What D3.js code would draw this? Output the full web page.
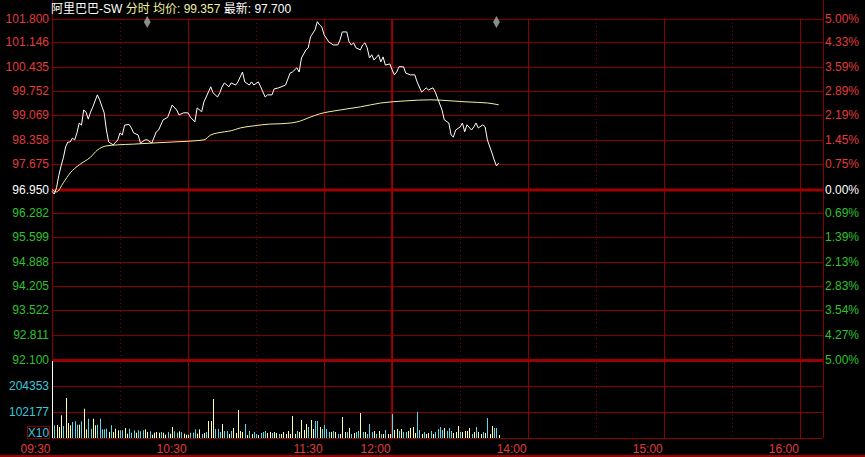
<!DOCTYPE html>
<html>
<head>
<meta charset="utf-8">
<script src="https://cdn.jsdelivr.net/npm/d3@7"></script>
<style>
  body { margin: 0; background: #000; }
  svg { display: block; background: #000; font-family: 'Liberation Sans', Arial, 'Noto Sans CJK SC', sans-serif; font-size: 12px; }
</style>
</head>
<body>
<svg class="chart" width="865" height="457"></svg>
<script>
const prevClose = 96.95;
const priceTicks = [101.8, 101.146, 100.435, 99.752, 99.069, 98.358, 97.675, 96.95,
  96.282, 95.599, 94.888, 94.205, 93.522, 92.811, 92.1];
const percentLabels = ['5.00%', '4.33%', '3.59%', '2.89%', '2.19%', '1.45%', '0.75%', '0.00%',
  '0.69%', '1.39%', '2.13%', '2.83%', '3.54%', '4.27%', '5.00%'];
const volumeTicks = [102177, 204353];
const timeTicks = ['09:30', '10:30', '11:30', '12:00', '14:00', '15:00', '16:00'];
const solidTimes = ['10:30', '11:30', '14:00', '15:00', '16:00'];
const dottedTimes = ['10:00', '11:00', '13:30', '14:30', '15:30'];
const markerTimes = ['10:12', '13:46'];

const priceTimes = [
  '09:30', '09:31', '09:32', '09:33', '09:34', '09:35', '09:36', '09:37', '09:38', '09:39',
  '09:40', '09:41', '09:42', '09:43', '09:44', '09:45', '09:46', '09:47', '09:48', '09:50',
  '09:51', '09:53', '09:54', '09:55', '09:57', '09:59', '10:00', '10:01', '10:02', '10:04',
  '10:05', '10:06', '10:08', '10:09', '10:11', '10:12', '10:14', '10:16', '10:17', '10:19',
  '10:21', '10:23', '10:25', '10:26', '10:28', '10:30', '10:31', '10:33', '10:34', '10:36',
  '10:37', '10:38', '10:40', '10:41', '10:43', '10:44', '10:45', '10:46', '10:48', '10:49',
  '10:51', '10:52', '10:54', '10:55', '10:57', '10:58', '10:59', '11:01', '11:02', '11:04',
  '11:05', '11:07', '11:08', '11:10', '11:13', '11:15', '11:16', '11:18', '11:19', '11:20',
  '11:22', '11:23', '11:24', '11:26', '11:27', '11:28', '11:29', '11:30', '11:32', '11:34',
  '11:36', '11:37', '11:38', '11:40', '11:41', '11:42', '11:43', '11:44', '11:46', '11:47',
  '11:48', '11:49', '11:50', '11:51', '11:52', '11:54', '11:55', '11:56', '11:57', '11:59',
  '13:00', '13:01', '13:02', '13:03', '13:05', '13:06', '13:08', '13:10', '13:11', '13:13',
  '13:15', '13:16', '13:18', '13:19', '13:20', '13:22', '13:23', '13:25', '13:26', '13:27',
  '13:28', '13:30', '13:31', '13:32', '13:33', '13:35', '13:36', '13:37', '13:38', '13:40',
  '13:41', '13:42', '13:44', '13:45', '13:46', '13:47'];
const prices = [
  96.90, 96.82, 97.00, 97.35, 97.62, 97.85, 98.16, 98.30, 98.30, 98.41,
  98.36, 98.56, 98.84, 98.78, 99.21, 99.15, 98.95, 99.15, 99.30, 99.64,
  99.50, 99.13, 98.64, 98.30, 98.22, 98.36, 98.56, 98.50, 98.78, 98.80,
  98.70, 98.56, 98.50, 98.27, 98.36, 98.36, 98.27, 98.59, 98.64, 98.93,
  99.00, 99.35, 99.21, 99.07, 99.13, 99.13, 99.01, 98.87, 99.27, 99.16,
  99.44, 99.58, 99.87, 99.70, 99.58, 99.70, 99.87, 99.98, 99.87, 99.98,
  99.92, 100.01, 100.29, 100.01, 99.92, 100.01, 99.92, 100.01, 99.87, 99.58,
  99.64, 99.64, 99.81, 99.84, 99.92, 100.26, 100.29, 100.41, 100.29, 100.69,
  100.92, 100.98, 101.29, 101.49, 101.72, 101.63, 101.57, 101.35, 101.15, 101.06,
  101.06, 101.20, 101.43, 101.43, 101.15, 101.06, 101.12, 100.98, 100.92, 101.06,
  101.12, 100.98, 100.69, 100.78, 100.63, 100.78, 100.58, 100.72, 100.49, 100.52,
  100.35, 100.21, 100.29, 100.44, 100.44, 100.26, 100.21, 100.21, 100.01, 99.72,
  99.84, 99.78, 99.84, 99.72, 99.55, 99.21, 98.93, 98.84, 98.50, 98.44,
  98.64, 98.73, 98.84, 98.59, 98.79, 98.64, 98.73, 98.84, 98.70, 98.79,
  98.73, 98.36, 97.99, 97.79, 97.62, 97.70];

const avgTimes = ['09:30', '09:32', '09:35', '09:38', '09:42', '09:47', '09:50', '09:54', '09:59',
  '10:06', '10:14', '10:23', '10:37', '10:40', '10:46', '10:49', '10:53', '10:59', '11:06',
  '11:11', '11:18', '11:24', '11:28', '11:37', '11:46', '11:55', '13:06', '13:17', '13:26',
  '13:33', '13:42', '13:47'];
const avgPrices = [96.95, 96.88, 97.14, 97.42, 97.65, 97.87, 98.07, 98.19, 98.22,
  98.24, 98.27, 98.30, 98.36, 98.50, 98.59, 98.62, 98.70, 98.76, 98.81,
  98.82, 98.87, 99.01, 99.10, 99.21, 99.30, 99.41, 99.47, 99.50, 99.47,
  99.44, 99.41, 99.357];

// one bar per minute from 09:30 (morning) and from 13:00 (afternoon)
const amVolumes = [
  302600, 49900, 51100, 43200, 89200, 47200, 157200, 59000, 49900, 62900,
  65600, 52300, 52300, 65600, 115100, 34200, 75800, 36500, 75800, 49900,
  52300, 75800, 34200, 34200, 36500, 23600, 49900, 23600, 36500, 30300,
  30300, 30300, 39300, 16900, 36500, 20800, 30300, 20800, 30300, 26300,
  30300, 34200, 23600, 26300, 13000, 20800, 23600, 20800, 23600, 20800,
  13000, 23600, 16900, 43200, 26300, 20800, 26300, 23600, 16900, 13000,
  13000, 20800, 20800, 34200, 16900, 34200, 15700, 19700, 23600, 66800,
  66800, 153300, 35400, 35400, 23600, 55000, 27500, 27500, 15700, 27500,
  39300, 19700, 110000, 27500, 23600, 55000, 11800, 27500, 15700, 23600,
  15700, 11800, 19700, 23600, 27500, 19700, 23600, 19700, 23600, 19700,
  15700, 15700, 23600, 15700, 27500, 15700, 86500, 15700, 27500, 23600,
  70700, 31400, 55000, 43200, 70700, 35400, 66800, 66800, 43200, 35400,
  51100, 35400, 23600, 23600, 27500, 23600, 15700, 15700, 82500, 23600,
  23600, 39300, 15700, 19700, 23600, 27500, 98300, 23600, 23600, 15700,
  55000, 23600, 27500, 15700, 27500, 15700, 15700, 31400, 15700, 15700];
const pmVolumes = [
  94300, 31400, 35400, 27500, 35400, 23600, 23600, 27500, 39300, 43200,
  19700, 102200, 31400, 15700, 23600, 15700, 19700, 27500, 15700, 23600,
  35400, 43200, 31400, 39300, 27500, 39300, 27500, 19700, 23600, 47200,
  23600, 23600, 27500, 27500, 39300, 15700, 23600, 43200, 23600, 15700,
  23600, 19700, 78600, 15700, 47200, 39300, 39300, 11800];
// w = opening auction, u = up tick, d = down tick
const volumeDirs = [
  'wduuuduuud', 'dduduudduu', 'ddddduduuu', 'dduudddudd', 'duuduuuudu', 'uduudduduu', 'uddduu',
  'duduuudddu', 'dduduuuuud', 'ududdudddu', 'uduuduuuuu', 'uuduuuuduu', 'dduddddudu',
  'duuudududd', 'ududddudud', 'uduu',
  'duududduuu', 'udduduudud', 'ddduddduuu', 'duuuududuu', 'duduuddu'].join('');

const colors = {
  grid: '#8a0000', gridStrong: '#9c0000', up: '#e03c3c', flat: '#ffffff', down: '#2ec32e',
  volume: '#3cc8dc', priceLine: '#ffffff', avgLine: '#f0f0a0', barUp: '#ffffa8', barDown: '#5ad8e6',
};

const toMinute = (t) => {
  const [h, m] = t.split(':').map(Number);
  const mins = h * 60 + m;
  return mins <= 720 ? mins - 570 : mins - 780 + 150;
};

const startApp = () => {
  const margin = { left: 52, right: 42, top: 19 };
  const plotRight = 865 - margin.right + 0;
  const priceBottom = 360;
  const volumeBottom = 438;
  const svg = d3.select('.chart');

  const xScale = d3.scaleLinear().domain([0, 340]).range([margin.left, 823]);
  const yScale = d3.scaleLinear().domain([prevClose * 0.95, prevClose * 1.05]).range([priceBottom, margin.top]);
  const vScale = d3.scaleLinear().domain([0, 306530]).range([volumeBottom, priceBottom]);
  const plotWidth = xScale(340) - xScale(0);
  const tone = v => (Math.abs(v - prevClose) < 0.001 ? colors.flat : (v > prevClose ? colors.up : colors.down));

  // price grid + left labels
  const yAxis = d3.axisLeft(yScale).tickValues(priceTicks)
    .tickFormat(d3.format('.3f')).tickSize(-plotWidth).tickPadding(3);
  const gy = svg.append('g').attr('transform', `translate(${margin.left},0)`).call(yAxis);
  gy.select('.domain').remove();
  gy.selectAll('.tick line')
    .attr('stroke', d => (d === prevClose || d === 92.1 ? colors.gridStrong : colors.grid))
    .attr('stroke-width', d => (d === prevClose || d === 92.1 ? 3 : 1));
  gy.selectAll('.tick text').attr('fill', tone).style('font-size', '12px').style('font-family', null);

  // right percent labels
  const yAxisRight = d3.axisRight(yScale).tickValues(priceTicks)
    .tickFormat((d, i) => percentLabels[i]).tickSize(0).tickPadding(2);
  const gr = svg.append('g').attr('transform', `translate(${xScale(340)},0)`).call(yAxisRight);
  gr.select('.domain').remove();
  gr.selectAll('.tick text').attr('fill', tone).style('font-size', '12px').style('font-family', null);

  // volume grid + labels
  const vAxis = d3.axisLeft(vScale).tickValues(volumeTicks)
    .tickFormat(d3.format('d')).tickSize(-plotWidth).tickPadding(3);
  const gv = svg.append('g').attr('transform', `translate(${margin.left},0)`).call(vAxis);
  gv.select('.domain').remove();
  gv.selectAll('.tick line').attr('stroke', colors.grid);
  gv.selectAll('.tick text').attr('fill', colors.volume).style('font-size', '12px').style('font-family', null);

  // vertical grid
  svg.append('g').selectAll('line')
    .data(solidTimes)
    .enter()
    .append('line')
    .attr('x1', t => Math.round(xScale(toMinute(t))) + 0.5)
    .attr('x2', t => Math.round(xScale(toMinute(t))) + 0.5)
    .attr('y1', margin.top)
    .attr('y2', volumeBottom)
    .attr('stroke', colors.grid);
  svg.append('g').selectAll('line')
    .data(dottedTimes)
    .enter()
    .append('line')
    .attr('x1', t => Math.round(xScale(toMinute(t))) + 0.5)
    .attr('x2', t => Math.round(xScale(toMinute(t))) + 0.5)
    .attr('y1', margin.top)
    .attr('y2', volumeBottom)
    .attr('stroke', colors.grid)
    .attr('stroke-dasharray', '1,3');
  svg.append('line')
    .attr('x1', xScale(150)).attr('x2', xScale(150))
    .attr('y1', margin.top).attr('y2', volumeBottom)
    .attr('stroke', colors.gridStrong).attr('stroke-width', 2);
  [0, 340].forEach((m) => {
    svg.append('line')
      .attr('x1', Math.round(xScale(m)) + 0.5).attr('x2', Math.round(xScale(m)) + 0.5)
      .attr('y1', 0).attr('y2', volumeBottom)
      .attr('stroke', colors.grid);
  });

  // time axis
  const xAxis = d3.axisBottom(xScale)
    .tickValues(timeTicks.map(toMinute))
    .tickFormat((d, i) => timeTicks[i])
    .tickSize(0);
  const gx = svg.append('g').attr('transform', `translate(0,${volumeBottom + 0.5})`).call(xAxis);
  gx.select('.domain').attr('stroke', colors.grid).attr('d', `M${xScale(0)},0H${xScale(340)}`);
  gx.selectAll('.tick text')
    .attr('fill', colors.up)
    .attr('text-anchor', 'end')
    .attr('x', -2)
    .attr('y', 14)
    .attr('dy', null)
    .style('font-size', '12px')
    .style('font-family', null);

  svg.append('rect')
    .attr('x', 0).attr('y', 455)
    .attr('width', 865).attr('height', 2)
    .attr('fill', colors.gridStrong);

  // X10 box
  svg.append('rect')
    .attr('x', 27.5).attr('y', 426.5)
    .attr('width', 22).attr('height', 12)
    .attr('fill', 'none')
    .attr('stroke', colors.grid);
  svg.append('text')
    .attr('x', 38.5).attr('y', 437)
    .attr('text-anchor', 'middle')
    .attr('fill', colors.volume)
    .text('X10');

  // volume bars
  const volumes = amVolumes.concat(pmVolumes);
  svg.append('g').selectAll('line')
    .data(volumes)
    .enter()
    .append('line')
    .attr('x1', (v, i) => Math.round(xScale(i)) + 0.5)
    .attr('x2', (v, i) => Math.round(xScale(i)) + 0.5)
    .attr('y1', vScale(0))
    .attr('y2', v => vScale(v))
    .attr('stroke', (v, i) => ({ w: '#ffffff', u: colors.barUp, d: colors.barDown })[volumeDirs[i]]);

  // average + price lines
  const avgLine = d3.line()
    .x(d => xScale(toMinute(d[0])))
    .y(d => yScale(d[1]))
    .curve(d3.curveMonotoneX);
  svg.append('path')
    .attr('d', avgLine(d3.zip(avgTimes, avgPrices)))
    .attr('fill', 'none')
    .attr('stroke', colors.avgLine);

  const priceLine = d3.line()
    .x(d => xScale(toMinute(d[0])))
    .y(d => yScale(d[1]));
  svg.append('path')
    .attr('d', priceLine(d3.zip(priceTimes, prices)))
    .attr('fill', 'none')
    .attr('stroke', colors.priceLine);

  // news markers
  svg.append('g').selectAll('path')
    .data(markerTimes)
    .enter()
    .append('path')
    .attr('d', d3.symbol(d3.symbolDiamond, 40))
    .attr('transform', t => `translate(${xScale(toMinute(t))},22)`)
    .attr('fill', '#8c8c8c');

  // title
  const title = svg.append('text').attr('x', 51).attr('y', 13);
  title.append('tspan').attr('fill', '#ffffff').text('阿里巴巴-SW ');
  title.append('tspan').attr('fill', '#f0f0a0').text('分时 均价: ');
  title.append('tspan').attr('fill', '#f0f0a0').text(d3.format('.3f')(avgPrices[avgPrices.length - 1]));
  title.append('tspan').attr('fill', '#ffffff').text(` 最新: ${d3.format('.3f')(prices[prices.length - 1])}`);
};

window.onload = startApp;
</script>
</body>
</html>
